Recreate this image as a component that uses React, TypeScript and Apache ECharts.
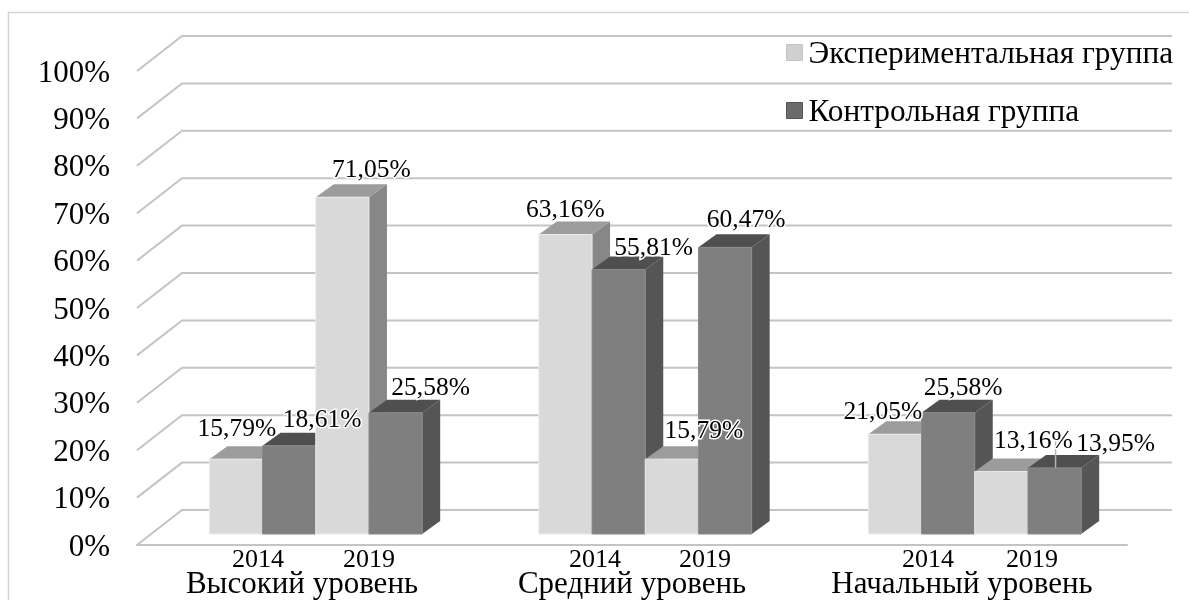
import React, { useEffect, useRef } from "react";
import * as echarts from "echarts";

const levels = ["Высокий уровень", "Средний уровень", "Начальный уровень"];
const years = ["2014", "2019"];
const seriesNames = ["Экспериментальная группа", "Контрольная группа"];
// values per [level, year], read left to right
const experimentalValues = [15.79, 71.05, 63.16, 15.79, 21.05, 13.16];
const controlValues = [18.61, 25.58, 55.81, 60.47, 25.58, 13.95];
const valueTicks = [0, 10, 20, 30, 40, 50, 60, 70, 80, 90, 100];

// manual placement of the labels, as moved by hand in the original (dx, dy from bar top centre)
const experimentalLabelShift = [[1, -32], [29, -29], [0, -26], [32, -30], [-12, -24], [32, -32]];
const controlLabelShift = [[33, -27], [35, -26], [35, -23], [21, -29], [15, -26], [61, -25]];
const yearShift = [-44, 67, -37, 73, -34, 70];

const SERIF = '"Liberation Serif", "Times New Roman", serif';
const DEPTH_X = 18;
const DEPTH_Y = 13;
const SLOT = 0.1615;

const palettes = [
  { front: "#d9d9d9", edge: "#ececec", top: "#9c9c9c", side: "#878787" },
  { front: "#7f7f7f", edge: "#8a8a8a", top: "#4f4f4f", side: "#555555" },
];

const fmt = (v: number) => v.toFixed(2).replace(".", ",") + "%";

function barSeries(idx: number, values: number[], shifts: number[][]) {
  const pal = palettes[idx];
  return {
    type: "custom",
    name: seriesNames[idx],
    xAxisIndex: 0,
    yAxisIndex: 0,
    itemStyle: { color: pal.front },
    clip: false,
    data: values.map((v, i) => [Math.floor(i / 2), v, i % 2, i]),
    renderItem: (_: any, api: any) => {
      const cat = api.value(0);
      const val = api.value(1);
      const yr = api.value(2);
      const i = api.value(3);
      const top = api.coord([cat, val]);
      const base = api.coord([cat, 0]);
      const w = api.size([1, 0])[0] * SLOT;
      const x0 = top[0] + (yr * 2 - 2 + idx) * w;
      const x1 = x0 + w;
      const y0 = top[1];
      const y1 = base[1];
      const z = i * 10 + idx * 5;
      const cx = (x0 + x1) / 2;
      return {
        type: "group",
        children: [
          {
            type: "polygon",
            z2: z,
            shape: { points: [[x1, y0], [x1 + DEPTH_X, y0 - DEPTH_Y], [x1 + DEPTH_X, y1 - DEPTH_Y], [x1, y1]] },
            style: { fill: pal.side },
          },
          {
            type: "polygon",
            z2: z,
            shape: { points: [[x0, y0], [x0 + DEPTH_X, y0 - DEPTH_Y], [x1 + DEPTH_X, y0 - DEPTH_Y], [x1, y0]] },
            style: { fill: pal.top },
          },
          {
            type: "rect",
            z2: z + 1,
            shape: { x: x0, y: y0, width: w, height: y1 - y0 },
            style: { fill: pal.front, stroke: pal.edge, lineWidth: 1 },
          },
          {
            type: "text",
            z2: 500 + i,
            style: {
              text: fmt(val),
              x: cx + shifts[i][0],
              y: y0 + shifts[i][1],
              align: "center",
              verticalAlign: "middle",
              font: `25.5px ${SERIF}`,
              fill: "#000",
              stroke: "#fff",
              lineWidth: 3,
            },
          },
        ],
      };
    },
  };
}

const option: any = {
  animation: false,
  backgroundColor: "#fff",
  graphic: [
    {
      type: "rect",
      silent: true,
      shape: { x: 8.5, y: 12.5, width: 1300, height: 800 },
      style: { fill: "none", stroke: "#d6d6d6", lineWidth: 1.5 },
    },
  ],
  grid: [
    { left: 151, right: 49.5, top: 60, bottom: 66 },
    { left: 137, right: 62, top: 71, bottom: 55 },
  ],
  xAxis: [
    { type: "category", gridIndex: 0, data: levels, show: false },
    {
      type: "category",
      gridIndex: 1,
      data: levels,
      axisTick: { show: false },
      axisLine: { lineStyle: { color: "#c4c4c4", width: 2 } },
      axisLabel: { color: "#000", fontFamily: SERIF, fontSize: 31, margin: 22, interval: 0, hideOverlap: false },
    },
  ],
  yAxis: [
    { type: "value", gridIndex: 0, min: 0, max: 100, interval: 10, show: false },
    {
      type: "value",
      gridIndex: 1,
      min: 0,
      max: 100,
      interval: 10,
      axisLine: { show: false },
      axisTick: { show: false },
      splitLine: { show: false },
      axisLabel: { color: "#000", fontFamily: SERIF, fontSize: 31, margin: 27, formatter: "{value}%" },
    },
  ],
  legend: {
    orient: "vertical",
    left: 781,
    top: 32,
    itemWidth: 16,
    itemHeight: 16,
    itemGap: 27,
    selectedMode: false,
    textStyle: { color: "#000", fontFamily: SERIF, fontSize: 31.3, padding: [0, 0, 0, 1] },
    data: [
      { name: seriesNames[0], icon: "rect", itemStyle: { color: "#d0d0d0", borderColor: "#c4c4c4", borderWidth: 1 } },
      { name: seriesNames[1], icon: "rect", itemStyle: { color: "#6b6b6b", borderColor: "#555", borderWidth: 1 } },
    ],
  },
  series: [
    {
      type: "custom",
      name: "walls",
      xAxisIndex: 0,
      yAxisIndex: 0,
      z: 1,
      clip: false,
      silent: true,
      data: valueTicks.map((t) => [0, t]),
      renderItem: (params: any, api: any) => {
        const y = api.coord([0, api.value(1)])[1];
        const cs = params.coordSys;
        const xL = cs.x;
        const xR = cs.x + cs.width;
        const pts: number[][] = [[xL - 14, y + 11], [xL + 31, y - 24], [xR + 32.5, y - 24]];
        return {
          type: "polyline",
          shape: { points: pts },
          style: { fill: "none", stroke: "#c4c4c4", lineWidth: 2 },
        };
      },
    },
    { ...barSeries(0, experimentalValues, experimentalLabelShift), z: 3 },
    { ...barSeries(1, controlValues, controlLabelShift), z: 3 },
    {
      type: "custom",
      name: "years",
      xAxisIndex: 1,
      yAxisIndex: 1,
      z: 4,
      clip: false,
      silent: true,
      data: experimentalValues.map((_, i) => [Math.floor(i / 2), 0, i]),
      renderItem: (_: any, api: any) => {
        const p = api.coord([api.value(0), 0]);
        const i = api.value(2);
        return {
          type: "text",
          style: {
            text: years[i % 2],
            x: p[0] + yearShift[i],
            y: p[1] + 13,
            align: "center",
            verticalAlign: "middle",
            font: `26px ${SERIF}`,
            fill: "#000",
          },
        };
      },
    },
    {
      type: "custom",
      name: "leader",
      xAxisIndex: 0,
      yAxisIndex: 0,
      z: 3,
      clip: false,
      silent: true,
      data: [[2, controlValues[5]]],
      renderItem: (_: any, api: any) => {
        const p = api.coord([2, api.value(1)]);
        const w = api.size([1, 0])[0] * SLOT;
        const x = p[0] + 1.5 * w + 1;
        return {
          type: "line",
          z2: 499,
          shape: { x1: x, y1: p[1], x2: x, y2: p[1] - 28 },
          style: { stroke: "#b5b5b5", lineWidth: 1.5 },
        };
      },
    },
  ],
};

export default function App() {
  const ref = useRef<HTMLDivElement>(null);
  useEffect(() => {
    const chart = echarts.init(ref.current!, undefined, { renderer: "svg" });
    chart.setOption(option);
    return () => chart.dispose();
  }, []);
  return (
    <div
      ref={ref}
      style={{ position: "absolute", left: 0, top: 0, width: 1189, height: 600, filter: "blur(0.4px)" }}
    />
  );
}
